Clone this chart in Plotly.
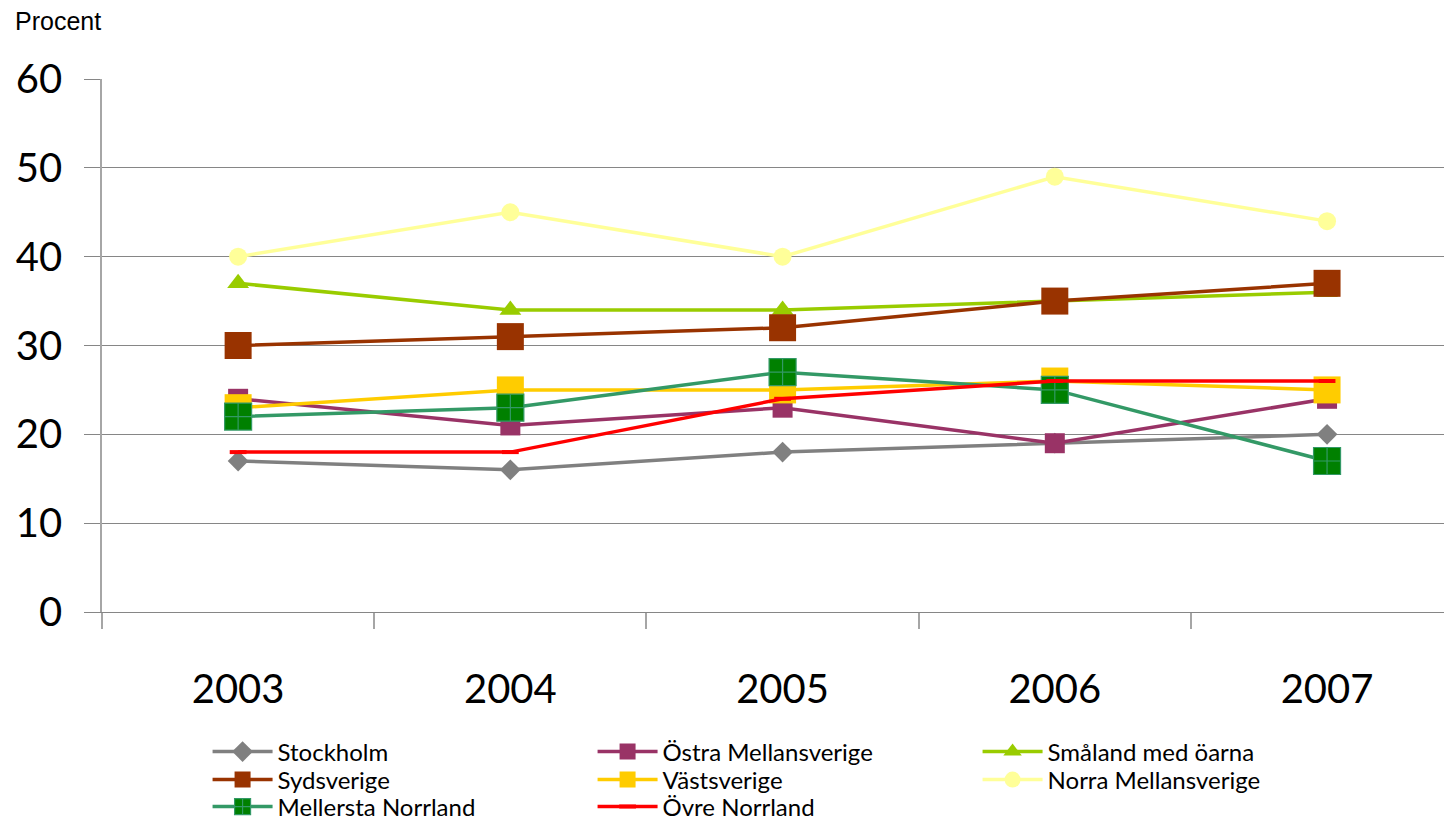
import plotly.graph_objects as go

years = ["2003", "2004", "2005", "2006", "2007"]
stockholm = [17, 16, 18, 19, 20]
ostra_mellansverige = [24, 21, 23, 19, 24]
smaland = [37, 34, 34, 35, 36]
sydsverige = [30, 31, 32, 35, 37]
vastsverige = [23, 25, 25, 26, 25]
norra_mellansverige = [40, 45, 40, 49, 44]
mellersta_norrland = [22, 23, 27, 25, 17]
ovre_norrland = [18, 18, 24, 26, 26]

xpos = list(range(len(years)))

series = [
    ("Stockholm", stockholm, "#808080", dict(symbol="diamond", size=16, color="#808080"), "legend"),
    ("Östra Mellansverige", ostra_mellansverige, "#993366", dict(symbol="square", size=20, color="#993366"), "legend"),
    ("Småland med öarna", smaland, "#99CC00", dict(symbol="triangle-up", size=19, color="#99CC00"), "legend"),
    ("Sydsverige", sydsverige, "#993300", dict(symbol="square", size=27, color="#993300"), "legend2"),
    ("Västsverige", vastsverige, "#FFCC00", dict(symbol="square", size=27, color="#FFCC00"), "legend2"),
    ("Norra Mellansverige", norra_mellansverige, "#FFFF99", dict(symbol="circle", size=18, color="#FFFF99"), "legend2"),
    ("Mellersta Norrland", mellersta_norrland, "#339966",
     dict(symbol="square-cross", size=27, color="#008000", line=dict(color="#339966", width=1.2)), "legend3"),
    ("Övre Norrland", ovre_norrland, "#FF0000",
     dict(symbol="line-ew", size=12, color="#FF0000", line=dict(color="#FF0000", width=4)), "legend3"),
]

fig = go.Figure()
for name, vals, col, mk, lg in series:
    fig.add_trace(go.Scatter(
        x=xpos, y=vals, name=name, mode="lines+markers",
        line=dict(color=col, width=3.5), marker=mk, legend=lg,
    ))

grid = "#868686"


def legend_row(yc):
    return dict(
        orientation="h", x=0.0782, y=yc, xanchor="left", yanchor="middle",
        font=dict(family="Lato", size=24, color="black"),
        itemwidth=60,
        entrywidth=310, entrywidthmode="pixels",
        traceorder="normal", bgcolor="rgba(0,0,0,0)",
    )


fig.update_layout(
    width=1444, height=812,
    margin=dict(l=94, r=0, t=71, b=208, autoexpand=False),
    plot_bgcolor="white", paper_bgcolor="white",
    showlegend=True,
    legend=legend_row(-0.2627),
    legend2=legend_row(-0.3152),
    legend3=legend_row(-0.3659),
    xaxis=dict(
        range=[-0.5, 4.459], tickmode="array", tickvals=xpos, ticktext=years,
        ticks="", showgrid=False, zeroline=False, automargin=False,
        showline=True, linecolor=grid, linewidth=1,
        tickfont=dict(family="Lato", size=40, color="black"),
        ticklabelstandoff=42,
        minor=dict(tickmode="linear", tick0=-0.5, dtick=1, ticks="outside",
                   ticklen=16, tickcolor="#a6a6a6", tickwidth=1.5, showgrid=False),
    ),
    yaxis=dict(
        range=[0, 60], tickmode="array", tickvals=[0, 10, 20, 30, 40, 50, 60],
        showgrid=True, gridcolor=grid, gridwidth=1, zeroline=False, automargin=False,
        showline=True, linecolor="#a6a6a6", linewidth=1.5,
        ticks="outside", ticklen=16, tickcolor=grid,
        tickfont=dict(family="Lato", size=40, color="black"),
        ticklabelstandoff=14,
    ),
    annotations=[dict(
        text="Procent", xref="paper", yref="paper", x=-0.066, y=1.109,
        xanchor="left", yanchor="middle", showarrow=False,
        font=dict(family="Liberation Sans", size=25, color="black"),
    )],
)

fig.write_html("out.html")
